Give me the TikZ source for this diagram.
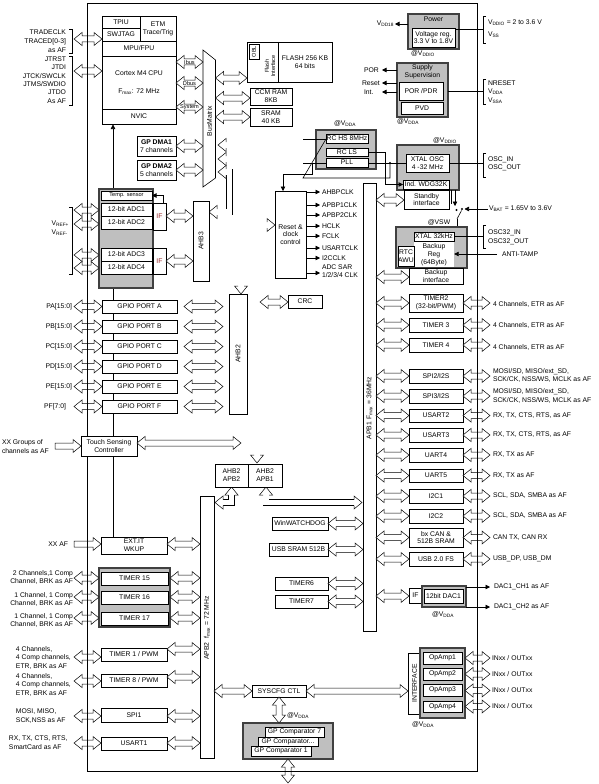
\documentclass[tikz,border=0pt]{standalone}
\usepackage{fontspec}
\setmainfont{Liberation Sans}
\usetikzlibrary{calc,arrows.meta}
\newcommand\fs{\fontsize{6.8}{7.8}\selectfont}
\newcommand\fss{\fontsize{5.6}{6.4}\selectfont}
\newcommand\fsl[1]{\fontsize{6.8}{#1}\selectfont}
\newcommand\lsub[1]{\textsubscript{#1}}
\def\HL{8pt}\def\HH{6.5pt}\def\HS{3pt}
\definecolor{ifred}{RGB}{150,40,40}
\tikzset{
 box/.style={draw,fill=white,line width=0.6pt,inner sep=0pt,outer sep=0pt,align=center,font=\fs},
 gbox/.style={draw=black!75,fill=black!25,line width=1.3pt},
 fat/.style={draw,fill=white,line width=0.5pt,line join=miter},
 lbl/.style={inner sep=0pt,outer sep=0pt,font=\fs,align=left},
 ln/.style={line width=0.6pt},
 arr/.style={line width=0.6pt,-{Triangle[length=4.5pt,width=4.5pt]}},
}
\newcommand\bx[7][]{\pgfmathsetmacro\bw{#5-#3}\pgfmathsetmacro\bh{#6-#4}%
 \node[box,minimum width=\bw pt,minimum height=\bh pt,#1] (#2) at ({(#3+#5)/2},{(#4+#6)/2}) {#7};}
\newcommand\hfat[4][]{\draw[fat,#1] let \p1=#3,\p2=#4,\p3=(0,#2) in
 (\x1,\y3) -- ++(\HL,\HH) -- ++(0,\HS-\HH) -- (\x2-\HL,\y3+\HS) -- ++(0,\HH-\HS) -- (\x2,\y3)
 -- ++(-\HL,-\HH) -- ++(0,\HH-\HS) -- (\x1+\HL,\y3-\HS) -- ++(0,\HS-\HH) -- cycle;}
\newcommand\hfatR[4][]{\draw[fat,#1] let \p1=#3,\p2=#4,\p3=(0,#2) in
 (\x1,\y3+\HS) -- (\x2-\HL,\y3+\HS) -- ++(0,\HH-\HS) -- (\x2,\y3) -- ++(-\HL,-\HH) -- ++(0,\HH-\HS) -- (\x1,\y3-\HS) -- cycle;}
\newcommand\vfat[4][]{\draw[fat,#1] let \p1=#3,\p2=#4,\p3=(#2,0) in
 (\x3,\y1) -- ++(\HH,-\HL) -- ++(\HS-\HH,0) -- (\x3+\HS,\y2+\HL) -- ++(\HH-\HS,0) -- (\x3,\y2)
 -- ++(-\HH,\HL) -- ++(\HH-\HS,0) -- (\x3-\HS,\y1-\HL) -- ++(\HS-\HH,0) -- cycle;}
\newcommand\fhead[2]{\begin{scope}[shift={#1},rotate=#2]
 \fill[white] (0,0) -- (-\HL,\HH) -- (-\HL,-\HH) -- cycle;
 \draw[line width=0.5pt,line join=miter] (-\HL,\HS) -- (-\HL,\HH) -- (0,0) -- (-\HL,-\HH) -- (-\HL,-\HS);
\end{scope}}
\newcommand\shaft[1]{\draw[line width=6.5pt,line join=miter] #1; \draw[white,line width=5.5pt,line join=miter] #1;}
\newcommand\rbrk[3]{\draw[ln] (#1-3,#2) -- (#1,#2) -- (#1,#3) -- (#1-3,#3);}
\newcommand\lbrk[3]{\draw[ln] (#1+3,#2) -- (#1,#2) -- (#1,#3) -- (#1+3,#3);}

\begin{document}
\begin{tikzpicture}[x=1pt,y=-1pt]
\useasboundingbox (0,0) rectangle (599,784);
\fill[white] (0,0) rectangle (599,784);
\coordinate (bmW) at (203,100);
\coordinate (bmE) at (215.5,100);
\coordinate (lin) at (74,0);
\coordinate (rout) at (490,0);

% NVIC <- EXTI line
\draw[arr] (113,537) -- (113,124.5);

% ---- bus matrix master links (bent fat arrows)
\shaft{(226,145) -- (257,145) -- (257,455) (257,225) -- (267,225)}
\fhead{(218,145)}{180}\fhead{(257,463)}{270}\fhead{(275,225)}{0}
\shaft{(226,159) -- (241,159) -- (241,286)}
\fhead{(218,159)}{180}\fhead{(241,294)}{270}
\shaft{(226,172) -- (229.5,172) -- (229.5,212) -- (217,212)}
\fhead{(218,172)}{180}\fhead{(209,212)}{180}
\shaft{(231.5,495) -- (231.5,502.5) -- (223,502.5)}
\fhead{(231.5,487)}{90}\fhead{(215,502.5)}{180}
\shaft{(266,495) -- (266,502.5) -- (354,502.5)}
\fhead{(266,487)}{90}\fhead{(362,502.5)}{0}

% ---- CPU
\bx{tpiu}{102}{16}{140}{28}{TPIU}
\bx{swj}{102}{28}{140}{41}{SWJTAG}
\bx{etm}{140}{16}{176}{41}{ETM\\Trace/Trig}
\bx{mpu}{102}{41}{176}{56}{MPU/FPU}
\bx{cpu}{102}{56}{176}{109}{Cortex M4 CPU\\[10pt]F\lsub{max}: 72 MHz}
\bx{nvic}{102}{109}{176}{124}{NVIC}
\draw[ln,fill=white] (203,50) -- (215.5,60) -- (215.5,178) -- (203,187) -- cycle;
\node[rotate=90,font=\fs] (bm) at (209.5,121) {BusMatrix};

\bx{dma1}{137}{136}{176}{156}{\textbf{GP DMA1}\\7 channels}
\bx{dma2}{137}{160}{176}{180}{\textbf{GP DMA2}\\5 channels}

\bx{flash}{247}{42}{332}{82}{}
\draw[ln] (278,42) -- (278,82);
\bx{obl}{249}{44}{259}{59}{}
\node[rotate=90,font=\fss] at (obl.center) {OBL};
\node[rotate=90,font=\fss,align=center] at (270,66) {Flash\\Interface};
\node[font=\fs,align=center] at (305,62) {FLASH 256 KB\\64 bits};
\bx{ccm}{250}{88}{292}{105}{CCM RAM\\8KB}
\bx{sram}{250}{108}{292}{126}{SRAM\\40 KB}

% ---- power
\bx[gbox]{power}{408}{14}{459}{49}{}
\node[font=\fs] at (433.5,19.5) {Power};
\bx{vreg}{412}{28}{455}{47}{Voltage reg.\\3.3 V to 1.8V}
\draw[arr] (power.west|-0,24) -- (395,24);
\node[lbl,anchor=east] at (394,24) {V\lsub{DD18}};
\draw[ln] (vreg.east|-0,29.5) -- (483,29.5);
\lbrk{483}{16}{43}
\node[lbl,anchor=west] at (488,23) {V\lsub{DDIO} = 2 to 3.6 V};
\node[lbl,anchor=west] at (488,35) {V\lsub{SS}};
\node[font=\fs] at (423,54) {@V\lsub{DDIO}};

\bx[gbox]{sup}{397}{63}{448}{117}{}
\node[font=\fs,align=center] at (422.5,72) {Supply\\Supervision};
\bx{por}{399}{82}{443}{100}{POR /PDR}
\bx{pvd}{401}{102}{443}{114}{PVD}
\draw[arr] (sup.west|-0,70) -- (382,70);
\draw[arr] (sup.west|-0,83) -- (382,83);
\draw[arr] (sup.west|-0,92) -- (382,92);
\node[lbl,anchor=west] at (364,70) {POR};
\node[lbl,anchor=west] at (362,83) {Reset};
\node[lbl,anchor=west] at (364,92) {Int.};
\draw[ln] (sup.east|-0,91) -- (483,91);
\lbrk{483}{79}{104}
\node[lbl,anchor=west,font=\fsl{8.6}] at (488,92) {NRESET\\V\lsub{DDA}\\V\lsub{SSA}};
\node[font=\fs] at (408,122) {@V\lsub{DDA}};

% ---- oscillators
\bx[gbox]{rc}{316}{130}{376}{169}{}
\node[font=\fs] at (345,124) {@V\lsub{DDA}};
\draw[ln] (303,139) -- (326,139);
\draw[ln] (303,163) -- (326,163);
\bx{rchs}{326}{134}{368}{143}{RC HS 8MHz}
\bx{rcls}{326}{148}{368}{156}{RC LS}
\bx{pll}{326}{158}{368}{167}{PLL}
\bx[gbox]{xtal}{397}{145}{459}{190}{}
\node[font=\fs] at (445,141) {@V\lsub{DDIO}};
\bx{xosc}{406}{154}{449}{172}{XTAL OSC\\4 -32 MHz}
\bx{wdg}{403}{180}{449}{189}{Ind. WDG32K}
\bx{stby}{404}{190}{449}{209}{Standby\\interface}
\draw[ln] (xosc.east|-0,163) -- (483,163);
\lbrk{483}{153}{177}
\node[lbl,anchor=west,font=\fsl{8.6}] at (488,164) {OSC\_IN\\OSC\_OUT};
\draw[ln] (xosc.west|-0,163) -- (pll.east|-0,163);
\fill (390,163) circle (1.1pt);
\draw[arr] (rcls.east) -- (385,152) -- (385,184.5) -- (wdg.west|-0,184.5);
\draw[ln] (rchs.west|-303,139) -- (303,178) -- (390,178) -- (390,163);
\draw[ln] (312,163) -- (312,174) -- (283,174);
\draw[arr] (283,174) -- (283,191);

% ---- reset & clock
\bx{rcc}{275}{191}{306}{278}{Reset \&\\clock\\control}
\draw[arr] (rcc.east|-0,192) -- (320,192); \node[lbl,anchor=west] at (322,192) {AHBPCLK};
\draw[arr] (rcc.east|-0,205) -- (320,205); \node[lbl,anchor=west] at (322,205) {APBP1CLK};
\draw[arr] (rcc.east|-0,215) -- (320,215); \node[lbl,anchor=west] at (322,215) {APBP2CLK};
\draw[arr] (rcc.east|-0,226) -- (320,226); \node[lbl,anchor=west] at (322,226) {HCLK};
\draw[arr] (rcc.east|-0,236) -- (320,236); \node[lbl,anchor=west] at (322,236) {FCLK};
\draw[arr] (rcc.east|-0,248) -- (320,248); \node[lbl,anchor=west] at (322,248) {USARTCLK};
\draw[arr] (rcc.east|-0,258) -- (320,258); \node[lbl,anchor=west] at (322,258) {I2CCLK};
\draw[arr] (rcc.east|-0,273) -- (320,273); \node[lbl,anchor=west,font=\fsl{8}] at (322,271.5) {ADC SAR\\1/2/3/4 CLK};

\bx{crc}{288}{295}{322}{308}{CRC}

% ---- bus bars
\bx{apb1}{363}{183}{376}{631}{}
\node[rotate=90,font=\fs] at (369.5,408) {APB1 F\lsub{max} = 36MHz};
\bx{apb2}{200}{496}{214}{758}{}
\node[rotate=90,font=\fs] at (207,628) {APB2 \ f\lsub{max} = 72 MHz};
\bx{ahb2}{229}{294}{247}{414}{}
\node[rotate=90,font=\fs] at (ahb2.center) {AHB2};
\bx{ahb3}{193}{201}{209}{281}{}
\node[rotate=90,font=\fs] at (ahb3.center) {AHB3};
\bx{brg2}{215}{464}{248}{487}{AHB2\\APB2}
\bx{brg1}{248}{464}{282}{487}{AHB2\\APB1}

% ---- backup domain
\draw[ln] (451,190) -- (451,204);
\draw[arr] (455,190) -- (455,206);
\fill (456.5,210) circle (1.1pt);
\fill (462,209) circle (1.1pt);
\draw[ln] (457,219) -- (461.5,210.5);
\draw[ln] (457,219) -- (457,227);
\draw[arr] (488,209) -- (464.5,209);
\node[lbl,anchor=west] at (489,209) {V\lsub{BAT} = 1.65V to 3.6V};
\node[font=\fs] at (439,222.5) {@VSW};
\bx[gbox]{bkp}{396}{227}{467}{268}{}
\bx{x32}{414}{232}{454}{241}{XTAL 32kHz}
\node[fill=white,inner sep=0pt,minimum width=40pt,minimum height=25pt,align=center,font=\fsl{8.2}] (breg) at (434,254.5) {Backup\\Reg\\(64Byte)};
\bx[font=\fsl{8.5}]{rtc}{399}{246}{413}{266}{RTC\\AWU}
\bx{bkif}{409}{268}{463}{284}{Backup\\interface}
\draw[ln] (x32.east) -- (483,236.5);
\lbrk{483}{225}{248}
\node[lbl,anchor=west,font=\fsl{8.6}] at (488,237) {OSC32\_IN\\OSC32\_OUT};
\draw[arr] (497,254) -- (breg.east|-0,254);
\node[lbl,anchor=west] at (502,254) {ANTI-TAMP};

% ---- APB1 peripherals
\bx{tim2}{409}{294}{463}{312}{TIMER2\\(32-bit/PWM)}
\bx{tim3}{409}{318}{463}{332}{TIMER 3}
\bx{tim4}{409}{338}{463}{352}{TIMER 4}
\bx{spi2}{409}{369}{463}{383}{SPI2/I2S}
\bx{spi3}{409}{389}{463}{403}{SPI3/I2S}
\bx{usart2}{409}{409}{463}{422}{USART2}
\bx{usart3}{409}{428}{463}{442}{USART3}
\bx{uart4}{409}{448}{463}{462}{UART4}
\bx{uart5}{409}{469}{463}{482}{UART5}
\bx{i2c1}{409}{489}{463}{503}{I2C1}
\bx{i2c2}{409}{509}{463}{523}{I2C2}
\bx{can}{409}{528}{463}{547}{bx CAN \&\\512B SRAM}
\bx{usb}{409}{552}{463}{566}{USB 2.0 FS}

\hfat{200}{(apb1.east)}{(stby.west)}
\hfat{277}{(apb1.east)}{(bkif.west)}
\hfat{303}{(apb1.east)}{(tim2.west)} \hfat{303}{(tim2.east)}{(rout)}
\hfat{325}{(apb1.east)}{(tim3.west)} \hfat{325}{(tim3.east)}{(rout)}
\hfat{345}{(apb1.east)}{(tim4.west)} \hfat{345}{(tim4.east)}{(rout)}
\hfat{376}{(apb1.east)}{(spi2.west)} \hfat{376}{(spi2.east)}{(rout)}
\hfat{396}{(apb1.east)}{(spi3.west)} \hfat{396}{(spi3.east)}{(rout)}
\hfat{415.5}{(apb1.east)}{(usart2.west)} \hfat{415.5}{(usart2.east)}{(rout)}
\hfat{435}{(apb1.east)}{(usart3.west)} \hfat{435}{(usart3.east)}{(rout)}
\hfat{455}{(apb1.east)}{(uart4.west)} \hfat{455}{(uart4.east)}{(rout)}
\hfat{475.5}{(apb1.east)}{(uart5.west)} \hfat{475.5}{(uart5.east)}{(rout)}
\hfat{496}{(apb1.east)}{(i2c1.west)} \hfat{496}{(i2c1.east)}{(rout)}
\hfat{516}{(apb1.east)}{(i2c2.west)} \hfat{516}{(i2c2.east)}{(rout)}
\hfat{537.5}{(apb1.east)}{(can.west)} \hfat{537.5}{(can.east)}{(rout)}
\hfat{559}{(apb1.east)}{(usb.west)} \hfat{559}{(usb.east)}{(rout)}

\node[lbl,anchor=west] at (493,304) {4 Channels, ETR as AF};
\node[lbl,anchor=west] at (493,325) {4 Channels, ETR as AF};
\node[lbl,anchor=west] at (493,347) {4 Channels, ETR as AF};
\node[lbl,anchor=west,font=\fsl{8.4}] at (493,375.5) {MOSI/SD, MISO/ext\_SD,\\SCK/CK, NSS/WS, MCLK as AF};
\node[lbl,anchor=west,font=\fsl{8.4}] at (493,396) {MOSI/SD, MISO/ext\_SD,\\SCK/CK, NSS/WS, MCLK as AF};
\node[lbl,anchor=west] at (493,415.5) {RX, TX, CTS, RTS, as AF};
\node[lbl,anchor=west] at (493,435) {RX, TX, CTS, RTS, as AF};
\node[lbl,anchor=west] at (493,455) {RX, TX as AF};
\node[lbl,anchor=west] at (493,475.5) {RX, TX as AF};
\node[lbl,anchor=west] at (493,496) {SCL, SDA, SMBA as AF};
\node[lbl,anchor=west] at (493,516) {SCL, SDA, SMBA as AF};
\node[lbl,anchor=west] at (493,537.5) {CAN TX, CAN RX};
\node[lbl,anchor=west] at (493,559) {USB\_DP, USB\_DM};

% ---- middle peripherals
\bx{wwdg}{272}{517}{328}{530}{WinWATCHDOG}
\bx{usbsram}{269}{543}{328}{556}{USB SRAM 512B}
\bx{tim6}{275}{577}{328}{590}{TIMER6}
\bx{tim7}{275}{595}{328}{608}{TIMER7}
\hfat{523.5}{(wwdg.east)}{(apb1.west)}
\hfat{549.5}{(usbsram.east)}{(apb1.west)}
\hfat{583.5}{(tim6.east)}{(apb1.west)}
\hfat{601.5}{(tim7.east)}{(apb1.west)}

\bx{dacif}{409}{588}{422}{603}{IF}
\bx[gbox]{dacg}{422}{586}{466}{607}{}
\bx{dac}{424}{589}{463}{603}{12bit DAC1}
\hfat{596}{(apb1.east)}{(dacif.west)}
\draw[arr] (dacg.east|-0,587) -- (490,587);
\draw[arr] (dacg.east|-0,607) -- (490,607);
\node[lbl,anchor=west] at (494,587) {DAC1\_CH1 as AF};
\node[lbl,anchor=west] at (494,607) {DAC1\_CH2 as AF};
\node[font=\fs] at (443,615) {@V\lsub{DDA}};

\bx{intf}{408}{653}{421}{714}{}
\node[rotate=90,font=\fs] at (intf.center) {INTERFACE};
\bx[gbox]{opg}{420}{648}{465}{718}{}
\bx{op1}{423}{652}{462}{664}{OpAmp1}
\bx{op2}{423}{668}{462}{680}{OpAmp2}
\bx{op3}{423}{684}{462}{696}{OpAmp3}
\bx{op4}{423}{701}{462}{712}{OpAmp4}
\hfat{658}{(opg.east)}{(rout)} \hfat{674}{(opg.east)}{(rout)}
\hfat{690.5}{(opg.east)}{(rout)} \hfat{706.5}{(opg.east)}{(rout)}
\node[lbl,anchor=west] at (492,658) {INxx / OUTxx};
\node[lbl,anchor=west] at (492,674) {INxx / OUTxx};
\node[lbl,anchor=west] at (492,690.5) {INxx / OUTxx};
\node[lbl,anchor=west] at (492,706.5) {INxx / OUTxx};
\node[font=\fs] at (423,725) {@V\lsub{DDA}};

\bx{syscfg}{252}{685}{306}{697}{SYSCFG CTL}
\hfat{691}{(apb2.east)}{(syscfg.west)}
\hfat{691}{(syscfg.east)}{(intf.west)}
\node[font=\fs] at (298,716) {@V\lsub{DDA}};
\bx[gbox]{comp}{243}{723}{333}{759}{}
\bx{cmp7}{265}{727}{324}{737}{GP Comparator 7}
\bx{cmpx}{258}{737}{318}{746}{GP Comparator...}
\bx{cmp1}{251}{746}{311}{756}{GP Comparator 1}
\vfat{279}{(syscfg.south)}{(comp.north)}
\vfat{288}{(comp.south)}{(288,783)}

% ---- left side
\bx[gbox]{adcg}{99}{189}{153}{288}{}
\bx[font=\fss]{temp}{101}{191}{152}{200}{Temp. sensor}
\bx{adc1}{101}{203}{152}{216}{12-bit ADC1}
\bx{adc2}{101}{216}{152}{229}{12-bit ADC2}
\bx{adc3}{101}{248}{152}{261}{12-bit ADC3}
\bx{adc4}{101}{261}{152}{274}{12-bit ADC4}
\bx[text=ifred]{if1}{153}{203}{166}{230}{IF}
\bx[text=ifred]{if2}{153}{248}{166}{274}{IF}
\draw[arr] (163,203) -- (163,195.5) -- (temp.east|-0,195.5);
\hfat{216}{(if1.east)}{(ahb3.west)}
\hfat{261}{(if2.east)}{(ahb3.west)}
\hfat{210}{(lin)}{(adcg.west)} \hfat{224}{(lin)}{(adcg.west)}
\hfat{255}{(lin)}{(adcg.west)} \hfat{268}{(lin)}{(adcg.west)}
\rbrk{72}{207}{274}
\node[lbl,anchor=east,font=\fsl{8.5}] at (69,228) {V\lsub{REF+}\\V\lsub{REF-}};

\bx{gpa}{102}{300}{177}{313}{GPIO PORT A}
\bx{gpb}{102}{320}{177}{333}{GPIO PORT B}
\bx{gpc}{102}{340}{177}{353}{GPIO PORT C}
\bx{gpd}{102}{360}{177}{373}{GPIO PORT D}
\bx{gpe}{102}{380}{177}{393}{GPIO PORT E}
\bx{gpf}{102}{400}{177}{413}{GPIO PORT F}
\hfat{306.5}{(lin)}{(gpa.west)} \hfat{306.5}{(184,0)}{(223,0)}
\hfat{326.5}{(lin)}{(gpb.west)} \hfat{326.5}{(184,0)}{(223,0)}
\hfat{346.5}{(lin)}{(gpc.west)} \hfat{346.5}{(184,0)}{(223,0)}
\hfat{366.5}{(lin)}{(gpd.west)} \hfat{366.5}{(184,0)}{(223,0)}
\hfat{386.5}{(lin)}{(gpe.west)} \hfat{386.5}{(184,0)}{(223,0)}
\hfat{406.5}{(lin)}{(gpf.west)} \hfat{406.5}{(184,0)}{(223,0)}
\node[lbl,anchor=east] at (72,306.5) {PA[15:0]};
\node[lbl,anchor=east] at (72,326.5) {PB[15:0]};
\node[lbl,anchor=east] at (72,346.5) {PC[15:0]};
\node[lbl,anchor=east] at (72,366.5) {PD[15:0]};
\node[lbl,anchor=east] at (72,386.5) {PE[15:0]};
\node[lbl,anchor=east] at (66,406.5) {PF[7:0]};

\bx{exti}{101}{537}{167}{554}{EXT.IT\\WKUP}
\hfat{544}{(exti.east)}{(apb2.west)}
\hfatR{544}{(lin)}{(exti.west)}
\node[lbl,anchor=east] at (68,544) {XX AF};

\bx[gbox]{tgrp}{99}{568}{170}{627}{}
\bx{tim15}{101}{572}{168}{585}{TIMER 15}
\bx{tim16}{101}{591}{168}{604}{TIMER 16}
\bx{tim17}{101}{612}{168}{625}{TIMER 17}
\hfat{578}{(tgrp.east)}{(apb2.west)} \hfat{578}{(lin)}{(tgrp.west)}
\hfat{597}{(tgrp.east)}{(apb2.west)} \hfat{597}{(lin)}{(tgrp.west)}
\hfat{618}{(tgrp.east)}{(apb2.west)} \hfat{618}{(lin)}{(tgrp.west)}
\node[lbl,anchor=east,align=right,font=\fsl{8.8}] at (73,577.5) {2 Channels,1 Comp\\Channel, BRK as AF};
\node[lbl,anchor=east,align=right,font=\fsl{8.8}] at (73,599.5) {1 Channel, 1 Comp\\Channel, BRK as AF};
\node[lbl,anchor=east,align=right,font=\fsl{8.8}] at (73,620.5) {1 Channel, 1 Comp\\Channel, BRK as AF};

\bx{tim1}{101}{648}{167}{661}{TIMER 1 / PWM}
\bx{tim8}{101}{674}{167}{687}{TIMER 8 / PWM}
\bx{spi1}{101}{708}{167}{722}{SPI1}
\bx{usart1}{101}{737}{167}{750}{USART1}
\hfat{649}{(tim1.east)}{(apb2.west)} \hfat{657}{(lin)}{(tim1.west)}
\hfat{677}{(tim8.east)}{(apb2.west)} \hfat{681}{(lin)}{(tim8.west)}
\hfat{716}{(spi1.east)}{(apb2.west)} \hfat{716}{(lin)}{(spi1.west)}
\hfat{743}{(usart1.east)}{(apb2.west)} \hfat{743}{(lin)}{(usart1.west)}
\node[lbl,anchor=west,font=\fsl{8.5}] at (16,657.5) {4 Channels,\\4 Comp channels,\\ETR, BRK as AF};
\node[lbl,anchor=west,font=\fsl{8.5}] at (16,684.5) {4 Channels,\\4 Comp channels,\\ETR, BRK as AF};
\node[lbl,anchor=west,font=\fsl{8.5}] at (16,716) {MOSI, MISO,\\SCK,NSS as AF};
\node[lbl,anchor=west,font=\fsl{8.5}] at (9,742.5) {RX, TX, CTS, RTS,\\SmartCard as AF};

% ---- CPU side arrows
\hfat{39}{(lin)}{(swj.west)}
\hfat{71}{(lin)}{(cpu.west)}
\hfat{62}{(cpu.east)}{(bmW)} \node[font=\fss] at (189.5,62) {Ibus};
\hfat{83}{(cpu.east)}{(bmW)} \node[font=\fss] at (189.5,83) {Dbus};
\hfat{107}{(cpu.east)}{(bmW)} \node[font=\fss] at (189.5,107) {System};
\hfat{146}{(dma1.east)}{(bmW)}
\hfat{170}{(dma2.east)}{(bmW)}
\hfat{78}{(bmE)}{(flash.west)}
\hfat{98}{(bmE)}{(ccm.west)}
\hfat{117}{(bmE)}{(sram.west)}
\hfat{302}{(260,0)}{(crc.west)}
\rbrk{72}{29}{53}
\node[lbl,anchor=east,align=right,font=\fsl{9}] at (66,41) {TRADECLK\\TRACED[0-3]\\as AF};
\rbrk{72}{56}{105}
\node[lbl,anchor=east,align=right,font=\fsl{8.4}] at (66,80) {JTRST\\JTDI\\JTCK/SWCLK\\JTMS/SWDIO\\JTDO\\As AF};

% ---- chip border
\node[draw,line width=0.8pt,inner sep=0pt,minimum width=390pt,minimum height=768pt] (chip) at (282,387) {};

% ---- touch sensing (straddles the border)
\bx{tsc}{81}{436}{137}{456}{Touch Sensing\\Controller}
\hfatR{446}{(55,0)}{(tsc.west)}
\hfat{443}{(tsc.east)}{(241,0)}
\node[lbl,anchor=west,font=\fsl{8.8}] at (2,446.5) {XX Groups of\\channels as AF};
\end{tikzpicture}
\end{document}
